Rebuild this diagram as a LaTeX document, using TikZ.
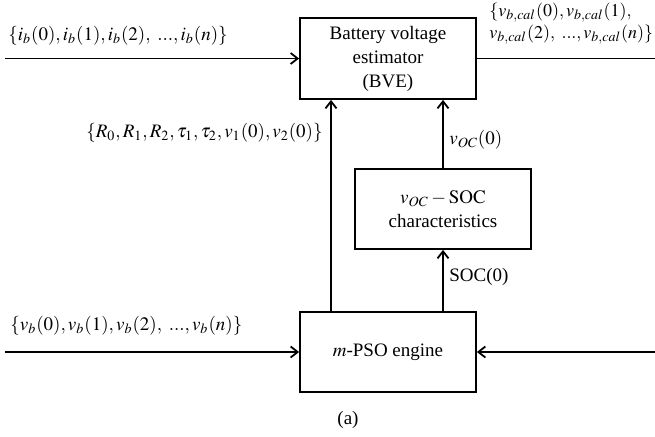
\documentclass[tikz,border=0pt]{standalone}
\usepackage{mathptmx}
\usepackage{fontspec}
\setmainfont{Liberation Serif}
\usetikzlibrary{arrows.meta}
\tikzset{
  blk/.style={draw, line width=0.9pt, minimum width=88pt, inner sep=0pt, align=center,
    font=\fontsize{9.5}{12}\selectfont},
  lbl/.style={inner sep=0pt, font=\fontsize{9.5}{12}\selectfont},
  con/.style={line width=0.9pt},
  arr/.style={con, -{Straight Barb[length=3.5pt,width=5.5pt,line width=0.9pt]}}
}
\begin{document}
\begin{tikzpicture}[x=0.5pt,y=-0.5pt]
\useasboundingbox (0,0) rectangle (655,436);
\node[blk, minimum height=40.5pt] (bve) at (388,58.5) {Battery voltage\\estimator\\(BVE)};
\node[blk, minimum height=40pt] (soc) at (443,209) {$v_{OC}-\mathrm{SOC}$\\characteristics};
\node[blk, minimum height=40pt] (pso) at (388,352) {$m$-PSO engine};

\node[lbl, anchor=west] (ilab) at (8,36) {$\{i_b(0),i_b(1),i_b(2),\ ...,i_b(n)\}$};
\node[lbl, anchor=west] (vblab) at (10,326) {$\{v_b(0),v_b(1),v_b(2),\ ...,v_b(n)\}$};
\node[lbl, anchor=east] (rlab) at (323,133) {$\{R_0,R_1,R_2,\tau_1,\tau_2,v_1(0),v_2(0)\}$};
\node[lbl, anchor=west] (voclab) at (449,140) {$v_{OC}(0)$};
\node[lbl, anchor=west] (soclab) at (449,277) {SOC(0)};
\node[lbl, anchor=west, align=left, font=\fontsize{9}{8.5}\selectfont] (outlab) at (489,23.5)
  {$\{v_{b,cal}(0),v_{b,cal}(1),$\\$v_{b,cal}(2),\ ...,v_{b,cal}(n)\}$};
\node[lbl] (cap) at (348,420) {(a)};

\coordinate (inL) at (5,58.5);
\coordinate (outR) at (655,58.5);
\coordinate (inL2) at (5,352);
\coordinate (inR2) at (655,352);
\coordinate (rx) at (331,0);

\draw[arr] (inL) -- (bve.west);
\draw[con] (bve.east) -- (outR);
\draw[arr] (rx |- pso.north) -- (rx |- bve.south);
\draw[arr] (soc.south |- pso.north) -- (soc.south);
\draw[arr] (soc.north) -- (soc.north |- bve.south);
\draw[arr] (inL2) -- (pso.west);
\draw[arr] (inR2) -- (pso.east);
\end{tikzpicture}
\end{document}
